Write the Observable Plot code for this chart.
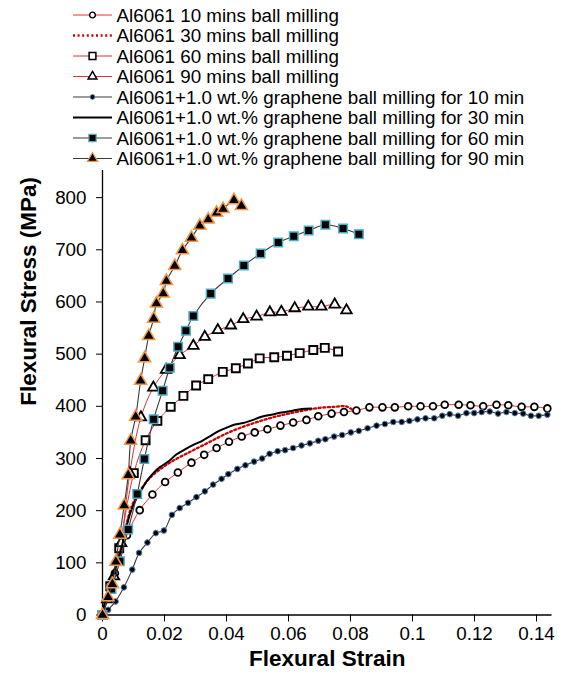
<!DOCTYPE html>
<html>
<head>
<meta charset="utf-8">
<script src="https://cdn.jsdelivr.net/npm/d3@7"></script>
<script src="https://cdn.jsdelivr.net/npm/@observablehq/plot@0.6"></script>
<style>
  body { margin: 0; background: #fff; }
  #wrap { position: relative; width: 561px; height: 680px; overflow: hidden; }
</style>
</head>
<body>
<div id="wrap"></div>
<script>
// ---- Data (strain, stress MPa) ----
const xTicks = [0, 0.02, 0.04, 0.06, 0.08, 0.1, 0.12, 0.14];
const yTicks = [0, 100, 200, 300, 400, 500, 600, 700, 800];
const xTitle = "Flexural Strain";
const yTitle = "Flexural Stress (MPa)";
const seriesNames = [
  "Al6061 10 mins ball milling",
  "Al6061 30 mins ball milling",
  "Al6061 60 mins ball milling",
  "Al6061 90 mins ball milling",
  "Al6061+1.0 wt.% graphene ball milling for 10 min",
  "Al6061+1.0 wt.% graphene ball milling for 30 min",
  "Al6061+1.0 wt.% graphene ball milling for 60 min",
  "Al6061+1.0 wt.% graphene ball milling for 90 min"
];

const al6061_10 = [[0,0],[0.004,80],[0.0079,153],[0.012,201],[0.0161,231],[0.0202,255],[0.0243,273],[0.0287,292],[0.0328,307],[0.0368,320],[0.0408,332],[0.0449,342],[0.0491,350],[0.0532,356],[0.0574,363],[0.0615,369],[0.0658,374],[0.0696,381],[0.0739,386],[0.0779,389],[0.0819,392],[0.0861,398],[0.0903,398],[0.0943,398],[0.0986,400],[0.1026,400],[0.1066,400],[0.1104,403],[0.1149,403],[0.1187,402],[0.1228,400],[0.1271,403],[0.1309,402],[0.1352,399],[0.1393,399],[0.1435,396]];
const al6061_30 = [[0,0],[0.0015,38],[0.0035,80],[0.0055,122],[0.0075,168],[0.0092,205],[0.011,228],[0.0135,250],[0.016,267],[0.019,281],[0.022,293],[0.026,306],[0.03,318],[0.035,333],[0.04,348],[0.045,360],[0.05,370],[0.055,379],[0.06,386],[0.065,392],[0.07,397],[0.075,399],[0.0785,400],[0.081,392]];
const al6061_60 = [[0,0],[0.0025,55],[0.0054,128],[0.0101,272],[0.0139,335],[0.0177,372],[0.022,399],[0.0261,420],[0.0302,440],[0.0341,452],[0.0388,466],[0.043,473],[0.0469,482],[0.0507,492],[0.0554,494],[0.0595,497],[0.0636,502],[0.068,508],[0.0717,512],[0.076,505]];
const al6061_90 = [[0,0],[0.0015,30],[0.0037,74],[0.006,138],[0.0088,272],[0.0124,379],[0.0164,436],[0.0205,470],[0.0249,498],[0.0293,516],[0.033,533],[0.0372,546],[0.0414,555],[0.0454,567],[0.0497,572],[0.054,580],[0.0577,581],[0.062,588],[0.0664,591],[0.0706,591],[0.0749,595],[0.0787,584]];
const gr_10 = [[0,0],[0.0018,10],[0.0042,26],[0.0069,53],[0.0096,87],[0.0118,119],[0.0145,139],[0.0172,157],[0.0198,162],[0.0224,192],[0.0249,205],[0.0276,215],[0.0303,226],[0.033,237],[0.0357,250],[0.0384,261],[0.0406,270],[0.0435,280],[0.0461,287],[0.0489,294],[0.0515,300],[0.0539,309],[0.0565,314],[0.0589,316],[0.0615,320],[0.0642,325],[0.0669,329],[0.0696,334],[0.0719,337],[0.0747,342],[0.0773,345],[0.0801,350],[0.0827,353],[0.0855,358],[0.0884,363],[0.0911,366],[0.0938,370],[0.0965,370],[0.099,372],[0.1016,375],[0.1042,377],[0.107,377],[0.1096,382],[0.112,385],[0.1147,382],[0.1174,387],[0.1199,387],[0.1223,389],[0.1249,390],[0.1276,386],[0.1303,389],[0.133,387],[0.1357,386],[0.1382,382],[0.1407,382],[0.1435,384]];
const gr_30 = [[0,0],[0.0013,40],[0.0035,78],[0.0056,117],[0.0077,167],[0.0088,193],[0.011,224],[0.0126,240],[0.0142,256],[0.0164,272],[0.0184,283],[0.0212,294],[0.0239,308],[0.0265,317],[0.0293,326],[0.0319,333],[0.0345,342],[0.0373,352],[0.04,359],[0.0427,365],[0.0454,368],[0.0481,373],[0.0513,380],[0.0545,384],[0.0577,388],[0.061,391],[0.0642,395],[0.0674,396]];
const gr_60 = [[0,0],[0.0029,50],[0.0056,103],[0.0083,164],[0.0112,232],[0.0135,299],[0.0165,375],[0.0194,430],[0.0217,474],[0.0244,514],[0.0269,545],[0.0293,573],[0.0349,616],[0.0405,645],[0.0456,670],[0.051,693],[0.0567,714],[0.0617,726],[0.0665,737],[0.0719,748],[0.0776,741],[0.0827,730]];
const gr_90 = [[0,0],[0.0018,34],[0.0032,59],[0.0043,102],[0.0056,154],[0.007,210],[0.0083,268],[0.0091,334],[0.0107,380],[0.0123,449],[0.0136,492],[0.0149,535],[0.0165,568],[0.0174,597],[0.0196,616],[0.0206,640],[0.0233,669],[0.0258,699],[0.0287,723],[0.0314,746],[0.0341,758],[0.0368,771],[0.0389,778],[0.0424,795],[0.0448,784]];

// ---- Styles ----
const RED = "#e2332c", GRAY = "#3a3a3a";
const styles = [
  {data: al6061_10, line: {stroke: RED, strokeWidth: 1}, dot: {symbol: "circle", r: 3.4, fill: "#fff", stroke: "#000", strokeWidth: 1.8}},
  {data: al6061_30, line: {stroke: "#d40000", strokeWidth: 2.3, strokeDasharray: "2,2.6"}, dot: null},
  {data: al6061_60, line: {stroke: RED, strokeWidth: 1}, dot: {symbol: "square", r: 4.5, fill: "#fff", stroke: "#000", strokeWidth: 1.9}},
  {data: al6061_90, line: {stroke: RED, strokeWidth: 1}, dot: {symbol: "triangle", r: 3.9, fill: "#fff", stroke: "#000", strokeWidth: 1.8}},
  {data: gr_10, line: {stroke: GRAY, strokeWidth: 1.1}, dot: {symbol: "circle", r: 2.8, fill: "#000", stroke: "#4f81bd", strokeWidth: 1}},
  {data: gr_30, line: {stroke: "#000", strokeWidth: 2}, dot: null},
  {data: gr_60, line: {stroke: GRAY, strokeWidth: 1.1}, dot: {symbol: "square", r: 4.8, fill: "#000", stroke: "#4bacc6", strokeWidth: 1.5}},
  {data: gr_90, line: {stroke: GRAY, strokeWidth: 1.1}, dot: {symbol: "triangle", r: 4.5, fill: "#000", stroke: "#f79646", strokeWidth: 1.5}}
];

const FONT = "'Liberation Sans', Arial, Helvetica, sans-serif";
const marks = [
  Plot.ruleX([0], {stroke: "#000", strokeWidth: 1.3}),
  Plot.ruleY([0], {stroke: "#000", strokeWidth: 1.3}),
  Plot.axisX({ticks: xTicks, tickFormat: d => String(d), tickSize: 7, tickPadding: 5, label: null, fontSize: 18.8}),
  Plot.axisY({ticks: yTicks, tickSize: 6, tickPadding: 10, label: null, fontSize: 18.8}),
  Plot.text([xTitle], {frameAnchor: "bottom", dy: 51, text: d => d, fontWeight: "bold", fontSize: 22.5}),
  Plot.text([yTitle], {frameAnchor: "left", dx: -74, dy: 13, rotate: -90, text: d => d, fontWeight: "bold", fontSize: 22.5})
];
for (const s of styles) {
  marks.push(Plot.line(s.data, {x: d => d[0], y: d => d[1], curve: "catmull-rom", ...s.line}));
  if (s.dot) marks.push(Plot.dot(s.data, {x: d => d[0], y: d => d[1], ...s.dot}));
}

const chart = Plot.plot({
  width: 561, height: 680,
  marginLeft: 102, marginRight: 9.5, marginTop: 170, marginBottom: 65.5,
  x: {domain: [0, 0.145]},
  y: {domain: [0, 852]},
  style: {fontFamily: FONT, fontSize: "18.8px", color: "#000", background: "#fff"},
  marks
});
const wrap = document.getElementById("wrap");
wrap.appendChild(chart);

// ---- Legend (top, overlaid) ----
const leg = d3.create("svg").attr("width", 561).attr("height", 176)
  .style("position", "absolute").style("left", "0px").style("top", "0px")
  .style("font-family", FONT).style("overflow", "visible");
leg.append("rect").attr("width", 545).attr("height", 168).attr("fill", "#fff");
const rowY = i => 15 + i * 20.5;
const symMap = {circle: d3.symbolCircle, square: d3.symbolSquare, triangle: d3.symbolTriangle};
styles.forEach((s, i) => {
  const y = rowY(i);
  const g = leg.append("g");
  g.append("line").attr("x1", 73).attr("x2", 112).attr("y1", y).attr("y2", y)
    .attr("stroke", s.line.stroke).attr("stroke-width", s.line.strokeWidth)
    .attr("stroke-dasharray", s.line.strokeDasharray || null);
  if (s.dot) {
    const r = s.dot.r * 0.85;
    g.append("path").attr("d", d3.symbol(symMap[s.dot.symbol], Math.PI * r * r)())
      .attr("transform", `translate(92.5,${y})`)
      .attr("fill", s.dot.fill).attr("stroke", s.dot.stroke).attr("stroke-width", s.dot.strokeWidth * 0.8);
  }
  g.append("text").attr("x", 116.5).attr("y", y).attr("dy", "0.35em")
    .attr("font-size", 18.8).attr("fill", "#000").text(seriesNames[i]);
});
wrap.appendChild(leg.node());
</script>
</body>
</html>
